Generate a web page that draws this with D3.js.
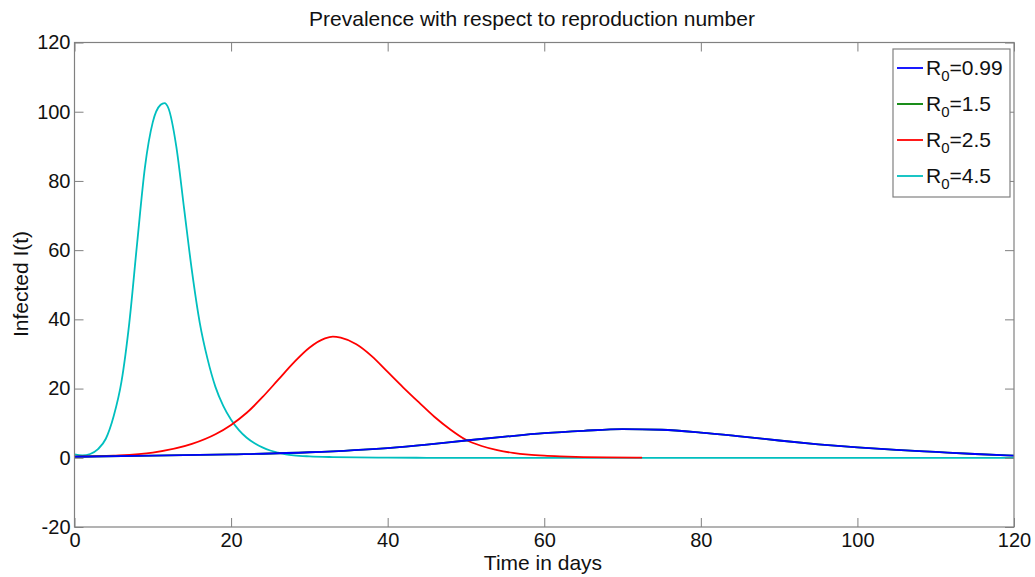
<!DOCTYPE html>
<html>
<head>
<meta charset="utf-8">
<script src="https://cdn.jsdelivr.net/npm/d3@7"></script>
<style>
  body { margin: 0; background: #fff; }
  svg { display: block; font-family: "Liberation Sans", Arial, sans-serif; }
</style>
</head>
<body>
<div id="chart"></div>
<script>
// ---- data ----
const xTicks = [0, 20, 40, 60, 80, 100, 120];
const yTicks = [-20, 0, 20, 40, 60, 80, 100, 120];

const legendLabels = ["0.99", "1.5", "2.5", "4.5"];
const seriesColors = ["#0000ff", "#008000", "#ff0000", "#00bfbf"];

// R0 = 4.5
const tCyan = [0, 1, 2, 3, 4, 5, 6, 7, 8, 9, 10, 11, 11.5, 12, 13, 14, 15, 16, 17, 18, 19, 20, 21, 22, 23, 24, 25, 26, 27, 28, 30, 33, 36, 40, 45, 60, 80, 100, 120];
const iCyan = [1.0, 0.7, 1.1, 2.5, 5.5, 12, 22, 39, 62, 84, 97, 102, 102.5, 101, 90, 72, 54, 39, 28.5, 20.5, 15, 11, 8, 5.8, 4.2, 3.0, 2.1, 1.5, 1.0, 0.7, 0.4, 0.2, 0.1, 0.05, 0, 0, 0, 0, 0];

// R0 = 2.5
const tRed = [0, 5, 10, 15, 18, 20, 22, 24, 26, 28, 30, 32, 33, 34, 36, 38, 40, 42, 44, 46, 48, 50, 52, 54, 56, 58, 60, 62, 65, 68, 72.5];
const iRed = [0.3, 0.6, 1.5, 4, 6.8, 9.5, 13, 17.5, 22.5, 27.5, 31.8, 34.5, 35, 34.7, 32.8, 29.3, 24.8, 20.3, 16, 11.8, 8.2, 5.2, 3.4, 2.2, 1.4, 0.9, 0.6, 0.4, 0.2, 0.1, 0.05];

// R0 = 0.99 (R0 = 1.5 lies under it in the picture)
const tBlue = [0, 10, 20, 30, 40, 45, 50, 55, 60, 65, 70, 75, 80, 85, 90, 95, 100, 105, 110, 115, 120];
const iBlue = [0.3, 0.6, 1.0, 1.6, 2.8, 3.8, 5.0, 6.1, 7.1, 7.8, 8.3, 8.1, 7.3, 6.2, 5.0, 3.9, 3.0, 2.3, 1.7, 1.1, 0.6];
const tGreen = [0, 10, 20, 30, 40, 45, 50, 55, 60, 65, 70, 75, 80, 85, 90, 95, 100, 105, 110, 115, 120];
const iGreen = [0.3, 0.6, 1.0, 1.6, 2.8, 3.8, 5.0, 6.1, 7.1, 7.8, 8.3, 8.1, 7.3, 6.2, 5.0, 3.9, 3.0, 2.3, 1.7, 1.1, 0.6];

const width = 1035, height = 577;
const svg = d3.select("#chart").append("svg")
  .attr("width", width)
  .attr("height", height)
  .style("background", "#fff");

const x = d3.scaleLinear().domain([0, 120]).range([74.5, 1014]);
const y = d3.scaleLinear().domain([-20, 120]).range([527, 42.5]);

const axisColor = "#808080";
const tickFont = 20;

// ---- curves ----
const line = d3.line()
  .x(d => x(d[0]))
  .y(d => y(d[1]))
  .curve(d3.curveMonotoneX);

// drawing order: cyan, red, green, blue (blue covers green)
const drawOrder = [
  { t: tCyan, v: iCyan, color: seriesColors[3] },
  { t: tRed, v: iRed, color: seriesColors[2] },
  { t: tGreen, v: iGreen, color: seriesColors[1] },
  { t: tBlue, v: iBlue, color: seriesColors[0] }
];

const plot = svg.append("g");
drawOrder.forEach(s => {
  plot.append("path")
    .datum(s.t.map((t, i) => [t, s.v[i]]))
    .attr("fill", "none")
    .attr("stroke", s.color)
    .attr("stroke-width", 1.8)
    .attr("d", line);
});

// ---- axes box + inward ticks ----
function styleAxis(g) {
  g.select(".domain").remove();
  g.selectAll(".tick line").attr("stroke", axisColor);
  g.selectAll(".tick text")
    .attr("fill", "#111")
    .attr("font-size", tickFont)
    .attr("font-family", "Liberation Sans, Arial, sans-serif");
}

const plain = d => String(d);

svg.append("g")
  .attr("transform", `translate(0,${y(-20)})`)
  .call(d3.axisBottom(x).tickValues(xTicks).tickFormat(plain).tickSizeInner(-9).tickSizeOuter(0).tickPadding(6))
  .call(styleAxis);

svg.append("g")
  .attr("transform", `translate(0,${y(120)})`)
  .call(d3.axisTop(x).tickValues(xTicks).tickSizeInner(-9).tickSizeOuter(0).tickFormat(""))
  .call(styleAxis);

svg.append("g")
  .attr("transform", `translate(${x(0)},0)`)
  .call(d3.axisLeft(y).tickValues(yTicks).tickFormat(plain).tickSizeInner(-9).tickSizeOuter(0).tickPadding(4))
  .call(styleAxis);

svg.append("g")
  .attr("transform", `translate(${x(120)},0)`)
  .call(d3.axisRight(y).tickValues(yTicks).tickSizeInner(-9).tickSizeOuter(0).tickFormat(""))
  .call(styleAxis);

svg.append("rect")
  .attr("x", x(0))
  .attr("y", y(120))
  .attr("width", x(120) - x(0))
  .attr("height", y(-20) - y(120))
  .attr("fill", "none")
  .attr("stroke", axisColor)
  .attr("stroke-width", 1.2);

// ---- titles ----
svg.append("text")
  .attr("x", 532)
  .attr("y", 26)
  .attr("text-anchor", "middle")
  .attr("font-size", 21)
  .attr("fill", "#111")
  .text("Prevalence with respect to reproduction number");

svg.append("text")
  .attr("x", 543)
  .attr("y", 570)
  .attr("text-anchor", "middle")
  .attr("font-size", 21)
  .attr("fill", "#111")
  .text("Time in days");

svg.append("text")
  .attr("transform", "translate(28,284) rotate(-90)")
  .attr("text-anchor", "middle")
  .attr("font-size", 21)
  .attr("fill", "#111")
  .text("Infected I(t)");

// ---- legend ----
const legend = svg.append("g");
legend.append("rect")
  .attr("x", 893)
  .attr("y", 49)
  .attr("width", 117)
  .attr("height", 148)
  .attr("fill", "#fff")
  .attr("stroke", axisColor)
  .attr("stroke-width", 1.2);

legendLabels.forEach((lab, i) => {
  const ly = 68 + i * 36;
  legend.append("line")
    .attr("x1", 897).attr("x2", 923)
    .attr("y1", ly).attr("y2", ly)
    .attr("stroke", seriesColors[i])
    .attr("stroke-width", 1.8);
  const t = legend.append("text")
    .attr("x", 926)
    .attr("y", ly + 7)
    .attr("font-size", 21)
    .attr("fill", "#111");
  t.append("tspan").text("R");
  t.append("tspan").attr("dy", 6).attr("font-size", 15).text("0");
  t.append("tspan").attr("dy", -6).text("=" + lab);
});
</script>
</body>
</html>
